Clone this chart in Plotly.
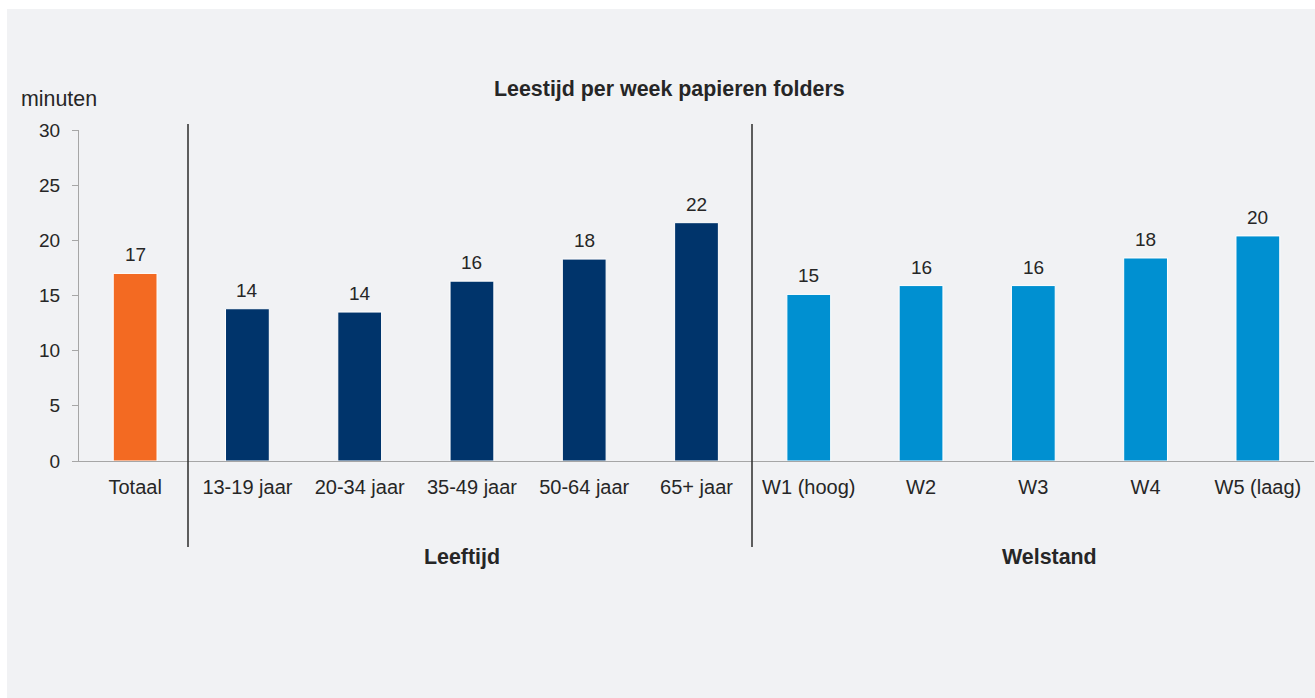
import plotly.graph_objects as go

# Reading time per week of paper folders (minutes)
categories = ["Totaal", "13-19 jaar", "20-34 jaar", "35-49 jaar", "50-64 jaar", "65+ jaar",
              "W1 (hoog)", "W2", "W3", "W4", "W5 (laag)"]
minutes = [17.0, 13.8, 13.5, 16.3, 18.3, 21.6, 15.1, 15.9, 15.9, 18.4, 20.4]
groups = ["total", "age", "age", "age", "age", "age",
          "wealth", "wealth", "wealth", "wealth", "wealth"]
group_titles = ["Leeftijd", "Welstand"]
y_ticks = [0, 5, 10, 15, 20, 25, 30]

colors = {"total": "#F36A22", "age": "#00346B", "wealth": "#0090D1"}
BG = "#F1F2F4"
TEXT = "#262626"
AXIS = "#A6A6A6"
FONT = "Liberation Sans, Arial, Helvetica, sans-serif"

x_pos = list(range(len(categories)))

W, H = 1315, 698
L, R, T, B = 79, 1, 130, 237
plot_w, plot_h = W - L - R, H - T - B
X_RANGE = [-0.5, len(categories) - 0.5]
UNIT_PX = plot_w / (X_RANGE[1] - X_RANGE[0])


def px_x(px):
    return (px - L) / plot_w


def px_y(py):
    return 1 - (py - T) / plot_h


def px_data(px):
    return X_RANGE[0] + (px - L) / UNIT_PX


fig = go.Figure()
fig.add_trace(go.Bar(
    x=x_pos, y=minutes, width=0.39,
    marker=dict(color=[colors[g] for g in groups], line=dict(color="white", width=1)),
    hoverinfo="skip", showlegend=False,
))

annotations = []
for xp, v in zip(x_pos, minutes):
    annotations.append(dict(x=xp, y=v, xref="x", yref="y", text=f"{round(v)}",
                            showarrow=False, yanchor="bottom", yshift=6,
                            font=dict(size=19, color=TEXT, family=FONT)))

annotations += [
    dict(x=px_x(669), y=px_y(89), xref="paper", yref="paper",
         text="<b>Leestijd per week papieren folders</b>", showarrow=False,
         xanchor="center", yanchor="middle", font=dict(size=21.4, color=TEXT, family=FONT)),
    dict(x=px_x(19), y=px_y(99), xref="paper", yref="paper", text="minuten",
         showarrow=False, xanchor="left", yanchor="middle",
         font=dict(size=21.4, color=TEXT, family=FONT)),
    dict(x=px_data(462), y=px_y(557), xref="x", yref="paper", text=f"<b>{group_titles[0]}</b>",
         showarrow=False, xanchor="center", yanchor="middle",
         font=dict(size=21.4, color=TEXT, family=FONT)),
    dict(x=px_data(1049), y=px_y(557), xref="x", yref="paper", text=f"<b>{group_titles[1]}</b>",
         showarrow=False, xanchor="center", yanchor="middle",
         font=dict(size=21.4, color=TEXT, family=FONT)),
]

shapes = [
    # white frame strips at top and left edge
    dict(type="rect", xref="paper", yref="paper", x0=px_x(0), x1=px_x(W), y0=px_y(0), y1=px_y(9),
         fillcolor="white", line=dict(width=0), layer="above"),
    dict(type="rect", xref="paper", yref="paper", x0=px_x(0), x1=px_x(7), y0=px_y(0), y1=px_y(H),
         fillcolor="white", line=dict(width=0), layer="above"),
    # group separators
    dict(type="line", xref="x", yref="paper", x0=px_data(188), x1=px_data(188),
         y0=px_y(124), y1=px_y(547), line=dict(color="#2B2B2B", width=1.5)),
    dict(type="line", xref="x", yref="paper", x0=px_data(752), x1=px_data(752),
         y0=px_y(124), y1=px_y(547), line=dict(color="#2B2B2B", width=1.5)),
]

fig.update_layout(
    width=W, height=H,
    margin=dict(l=L, r=R, t=T, b=B, pad=0),
    paper_bgcolor=BG, plot_bgcolor=BG,
    font=dict(family=FONT, size=19, color=TEXT),
    annotations=annotations,
    shapes=shapes,
    xaxis=dict(
        range=X_RANGE,
        tickvals=x_pos, ticktext=categories,
        showline=True, linecolor=AXIS, linewidth=1,
        ticks="", showgrid=False, zeroline=False,
        tickfont=dict(size=20, color=TEXT, family=FONT),
        ticklabelstandoff=8, fixedrange=True,
    ),
    yaxis=dict(
        range=[0, 30], tickvals=y_ticks,
        showline=True, linecolor=AXIS, linewidth=1,
        ticks="outside", ticklen=6, tickcolor=AXIS, tickwidth=1,
        showgrid=False, zeroline=False,
        tickfont=dict(size=19, color=TEXT, family=FONT),
        ticklabelstandoff=8, fixedrange=True,
    ),
)

fig.write_html("out.html", config={"displayModeBar": False})
